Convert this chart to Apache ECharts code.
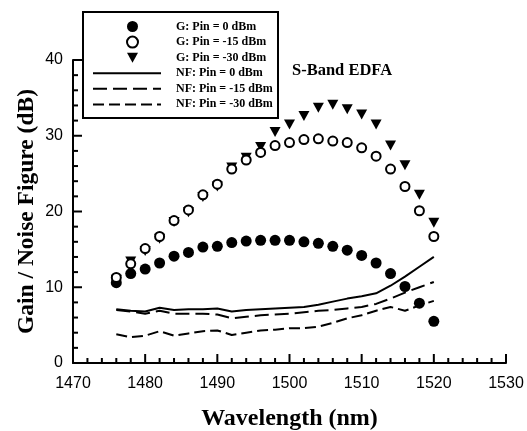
<!DOCTYPE html>
<html>
<head>
<meta charset="utf-8">
<script src="https://cdn.jsdelivr.net/npm/echarts@6.0.0/dist/echarts.min.js"></script>
<style>
  html, body { margin: 0; padding: 0; background: #fff; }
  #chart { width: 527px; height: 431px; }
</style>
</head>
<body>
<div id="chart"></div>
<script>
// wavelength samples (nm)
const wavelength = [1476, 1478, 1480, 1482, 1484, 1486, 1488, 1490, 1492, 1494, 1496, 1498,
  1500, 1502, 1504, 1506, 1508, 1510, 1512, 1514, 1516, 1518, 1520];

// gain (dB)
const gain0 = [10.6, 11.8, 12.4, 13.2, 14.1, 14.6, 15.3, 15.4, 15.9, 16.1, 16.2, 16.2,
  16.2, 16.0, 15.8, 15.4, 14.9, 14.2, 13.2, 11.8, 10.1, 7.9, 5.5];
const gain15 = [11.3, 13.1, 15.1, 16.7, 18.8, 20.2, 22.2, 23.6, 25.6, 26.8, 27.8, 28.7,
  29.1, 29.5, 29.6, 29.3, 29.1, 28.4, 27.3, 25.6, 23.3, 20.1, 16.7];
const gain30 = [11.0, 13.4, 14.8, 16.4, 18.6, 19.9, 21.9, 23.3, 25.8, 27.1, 28.5, 30.5,
  31.5, 32.6, 33.7, 34.1, 33.5, 32.8, 31.5, 28.7, 26.1, 22.2, 18.5];

// noise figure (dB)
const nf0 = [7.1, 6.9, 6.8, 7.3, 7.0, 7.1, 7.1, 7.2, 6.8, 7.0, 7.1, 7.2,
  7.3, 7.4, 7.7, 8.1, 8.5, 8.8, 9.2, 10.2, 11.4, 12.7, 14.0];
const nf15 = [7.0, 6.8, 6.5, 6.9, 6.5, 6.5, 6.5, 6.4, 5.9, 6.1, 6.3, 6.4,
  6.5, 6.7, 6.9, 7.0, 7.2, 7.4, 7.8, 8.5, 9.3, 10.0, 10.7];
const nf30 = [3.8, 3.4, 3.6, 4.2, 3.6, 3.9, 4.2, 4.3, 3.7, 4.0, 4.3, 4.4,
  4.6, 4.6, 4.8, 5.3, 5.9, 6.3, 6.9, 7.4, 6.9, 7.6, 8.2];

const gainNames = ["G: Pin = 0 dBm", "G: Pin = -15 dBm", "G: Pin = -30 dBm"];
const nfNames = ["NF: Pin = 0 dBm", "NF: Pin = -15 dBm", "NF: Pin = -30 dBm"];

// axis ranges
const xMin = 1470, xMax = 1530, xStep = 10;
const yMin = 0, yMax = 40, yStep = 10;
const minorDiv = 5;

const pairs = (ys) => wavelength.map((x, i) => [x, ys[i]]);

const serif = "'Liberation Serif', 'DejaVu Serif', serif";
const sans = "'Liberation Sans', Arial, sans-serif";
// downward triangle
const triDown = "path://M0,0 L10,0 L5,9 Z";

// inward ticks (echarts 6 does not draw ticks inside the grid): [x, y, length, dir]
const tickData = [];
for (let i = 0; i <= (xMax - xMin) / xStep * minorDiv; i++) {
  tickData.push([xMin + i * xStep / minorDiv, yMin, i % minorDiv === 0 ? 9 : 5, 0]);
}
for (let i = 0; i <= (yMax - yMin) / yStep * minorDiv; i++) {
  tickData.push([xMin, yMin + i * yStep / minorDiv, i % minorDiv === 0 ? 9 : 5, 1]);
}

const axisLineStyle = { show: true, onZero: false, lineStyle: { color: "#000", width: 2 } };
const labelStyle = { color: "#000", fontFamily: sans, fontSize: 16, formatter: (v) => String(v) };

const chart = echarts.init(document.getElementById("chart"));

chart.setOption({
  animation: false,
  backgroundColor: "#fff",
  title: {
    text: "S-Band EDFA",
    left: 292,
    top: 62,
    padding: 0,
    textStyle: { color: "#000", fontFamily: serif, fontWeight: "bold", fontSize: 16.5 }
  },
  grid: { left: 73, right: 21, top: 60, bottom: 68, containLabel: false, outerBoundsMode: "none" },
  legend: [
    {
      data: [
        { name: gainNames[0], icon: "circle" },
        { name: gainNames[1], icon: "emptyCircle" },
        { name: gainNames[2], icon: triDown }
      ],
      orient: "vertical",
      left: 126,
      top: 20.5,
      padding: 0,
      itemWidth: 11,
      itemHeight: 11,
      itemGap: 3.1,
      textStyle: { color: "#000", fontFamily: serif, fontWeight: "bold", fontSize: 12, lineHeight: 11, padding: [0, 0, 0, 33] }
    },
    {
      data: nfNames,
      orient: "vertical",
      left: 92,
      top: 67.2,
      padding: 0,
      itemWidth: 68,
      itemHeight: 11,
      itemGap: 3.6,
      itemStyle: { color: "rgba(0,0,0,0)", borderWidth: 0, opacity: 0 },
      textStyle: { color: "#000", fontFamily: serif, fontWeight: "bold", fontSize: 12, lineHeight: 11, padding: [0, 0, 0, 10] }
    }
  ],
  graphic: [
    {
      type: "rect",
      shape: { x: 83, y: 12, width: 195, height: 106 },
      style: { fill: null, stroke: "#000", lineWidth: 2 },
      z: 100
    }
  ],
  xAxis: {
    type: "value",
    min: xMin,
    max: xMax,
    interval: xStep,
    name: "Wavelength (nm)",
    nameLocation: "middle",
    nameGap: 44,
    nameMoveOverlap: false,
    nameTextStyle: { color: "#000", fontFamily: serif, fontWeight: "bold", fontSize: 24 },
    axisLine: axisLineStyle,
    axisTick: { show: false },
    minorTick: { show: false },
    splitLine: { show: false },
    axisLabel: Object.assign({}, labelStyle, { margin: 13 })
  },
  yAxis: {
    type: "value",
    min: yMin,
    max: yMax,
    interval: yStep,
    name: "Gain / Noise Figure (dB)",
    nameLocation: "middle",
    nameGap: 34,
    nameMoveOverlap: false,
    nameTextStyle: { color: "#000", fontFamily: serif, fontWeight: "bold", fontSize: 23.5 },
    axisLine: axisLineStyle,
    axisTick: { show: false },
    minorTick: { show: false },
    splitLine: { show: false },
    axisLabel: Object.assign({}, labelStyle, { margin: 10 })
  },
  series: [
    {
      type: "custom",
      silent: true,
      data: tickData,
      encode: { x: 0, y: 1 },
      z: 5,
      renderItem: (params, api) => {
        const p = api.coord([api.value(0), api.value(1)]);
        const len = api.value(2);
        const shape = api.value(3) === 0
          ? { x1: p[0], y1: p[1], x2: p[0], y2: p[1] - len }
          : { x1: p[0], y1: p[1], x2: p[0] + len, y2: p[1] };
        return { type: "line", shape: shape, style: { stroke: "#000", lineWidth: 2 } };
      }
    },
    {
      name: nfNames[0], type: "line", data: pairs(nf0), showSymbol: false,
      lineStyle: { color: "#000", width: 2 }, itemStyle: { color: "#000" }, z: 2
    },
    {
      name: nfNames[1], type: "line", data: pairs(nf15), showSymbol: false,
      lineStyle: { color: "#000", width: 2, type: [14, 6] }, itemStyle: { color: "#000" }, z: 2
    },
    {
      name: nfNames[2], type: "line", data: pairs(nf30), showSymbol: false,
      lineStyle: { color: "#000", width: 2, type: [11, 5] }, itemStyle: { color: "#000" }, z: 2
    },
    {
      name: gainNames[0], type: "scatter", data: pairs(gain0), symbol: "circle", symbolSize: 11,
      itemStyle: { color: "#000", opacity: 1 }, z: 3
    },
    {
      name: gainNames[1], type: "scatter", data: pairs(gain15), symbol: "emptyCircle", symbolSize: 9,
      itemStyle: { color: "#000", borderColor: "#000", borderWidth: 2, opacity: 1 }, z: 4
    },
    {
      name: gainNames[2], type: "scatter", data: pairs(gain30), symbol: triDown, symbolSize: [11, 10],
      itemStyle: { color: "#000", opacity: 1 }, z: 3
    }
  ]
});
</script>
</body>
</html>
